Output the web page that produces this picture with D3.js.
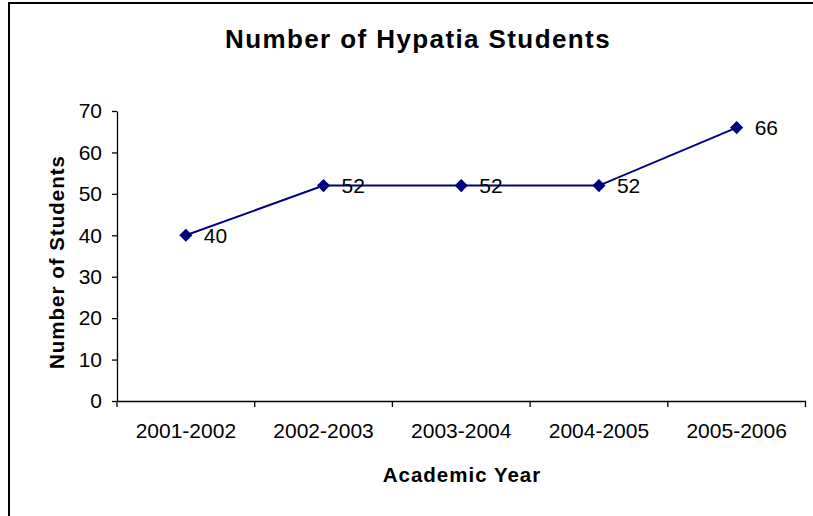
<!DOCTYPE html>
<html>
<head>
<meta charset="utf-8">
<script src="https://cdn.jsdelivr.net/npm/d3@7"></script>
<style>
  html, body { margin: 0; padding: 0; background: #fff; }
  svg { display: block; font-family: "Liberation Sans", Arial, sans-serif; }
</style>
</head>
<body>
<svg id="chart" width="813" height="516"></svg>
<script>
const categories = ["2001-2002", "2002-2003", "2003-2004", "2004-2005", "2005-2006"];
const students = [40, 52, 52, 52, 66];
const yTicks = [0, 10, 20, 30, 40, 50, 60, 70];
const titleText = "Number of Hypatia Students";
const xTitle = "Academic Year";
const yTitle = "Number of Students";

const svg = d3.select("#chart");
const W = 813, H = 516;
const margin = { left: 117, right: 7.5, top: 111, bottom: 115 };
const x0 = margin.left, x1 = W - margin.right;
const y0 = H - margin.bottom, y1 = margin.top;

// outer border (cut off at right/bottom)
svg.append("rect").attr("x", 9).attr("y", 3).attr("width", 900).attr("height", 600)
  .attr("fill", "none").attr("stroke", "#000").attr("stroke-width", 2);

const x = d3.scaleBand().domain(categories).range([x0, x1]).padding(0);
const y = d3.scaleLinear().domain([0, 70]).range([y0, y1]);

// Y axis
const yAxis = svg.append("g").attr("transform", `translate(${x0},0)`)
  .call(d3.axisLeft(y).tickValues(yTicks).tickSize(5).tickSizeOuter(0).tickPadding(10));
yAxis.select(".domain").attr("stroke", "#000").attr("stroke-width", 1.3);
yAxis.selectAll(".tick line").attr("stroke", "#000").attr("stroke-width", 1.3);
yAxis.selectAll(".tick text").attr("font-size", 21).attr("fill", "#000")
  .attr("font-family", "Liberation Sans, Arial, sans-serif");

// X axis
const xAxis = svg.append("g").attr("transform", `translate(0,${y0})`)
  .call(d3.axisBottom(x).tickSize(0).tickSizeOuter(0).tickPadding(22));
xAxis.select(".domain").attr("stroke", "#000").attr("stroke-width", 1.3);
xAxis.selectAll(".tick text").attr("font-size", 21).attr("fill", "#000")
  .attr("font-family", "Liberation Sans, Arial, sans-serif");
// tick marks at band boundaries
const bounds = categories.map(c => x(c)).concat([x1]);
xAxis.selectAll(".bnd").data(bounds).enter().append("line")
  .attr("x1", d => d).attr("x2", d => d).attr("y1", 0).attr("y2", 6)
  .attr("stroke", "#000").attr("stroke-width", 1.3);

const cx = d => x(d) + x.bandwidth() / 2;

// line
const line = d3.line().x((d, i) => cx(categories[i])).y(d => y(d));
svg.append("path").datum(students).attr("d", line)
  .attr("fill", "none").attr("stroke", "#000080").attr("stroke-width", 2);

// markers (diamonds)
svg.selectAll(".mk").data(students).enter().append("path")
  .attr("d", d3.symbol().type(d3.symbolDiamond2).size(110))
  .attr("transform", (d, i) => `translate(${cx(categories[i])},${y(d)})`)
  .attr("fill", "#000080");

// data labels
svg.selectAll(".lbl").data(students).enter().append("text")
  .attr("x", (d, i) => cx(categories[i]) + 18)
  .attr("y", d => y(d))
  .attr("dy", "0.36em")
  .attr("font-size", 21).attr("fill", "#000")
  .text(d => d);

// title
svg.append("text").attr("x", 418).attr("y", 48).attr("text-anchor", "middle")
  .attr("font-size", 26).attr("font-weight", "bold").attr("letter-spacing", 1.4)
  .attr("fill", "#000").text(titleText);

// x title
svg.append("text").attr("x", 462).attr("y", 482).attr("text-anchor", "middle")
  .attr("font-size", 20.5).attr("font-weight", "bold").attr("letter-spacing", 1)
  .attr("fill", "#000").text(xTitle);

// y title
svg.append("text").attr("transform", "translate(64,262) rotate(-90)")
  .attr("text-anchor", "middle")
  .attr("font-size", 20.5).attr("font-weight", "bold").attr("letter-spacing", 1)
  .attr("fill", "#000").text(yTitle);
</script>
</body>
</html>
